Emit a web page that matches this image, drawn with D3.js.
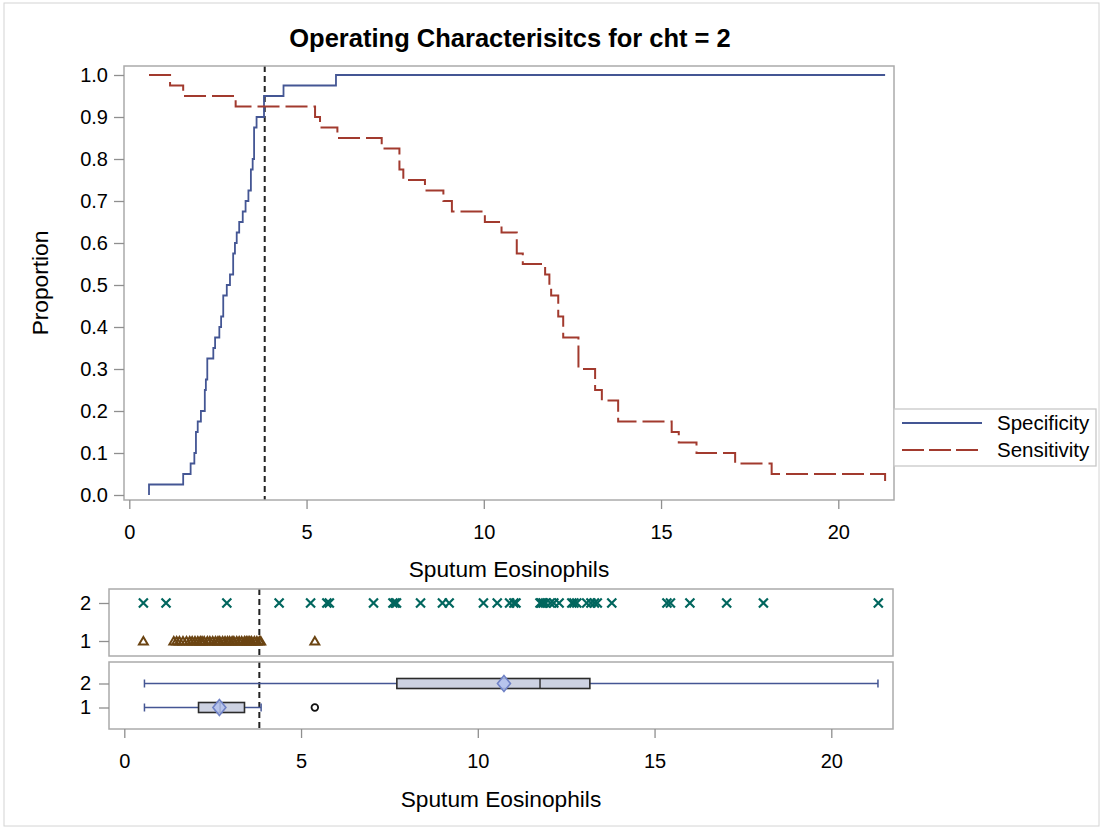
<!DOCTYPE html>
<html>
<head>
<meta charset="utf-8">
<script src="https://cdn.jsdelivr.net/npm/d3@7"></script>
<style>
  body { margin: 0; background: #fff; }
  text { font-family: "Liberation Sans", Arial, sans-serif; fill: #000; }
</style>
</head>
<body>
<div id="chart"></div>
<script>
// Specificity step curve (cutpoint, value)
const specCut = [0.556, 0.556, 1.52, 1.73, 1.835, 1.88, 1.93, 2.02, 2.13, 2.16, 2.2, 2.37, 2.42, 2.54, 2.59,
  2.65, 2.75, 2.84, 2.93, 2.98, 3.03, 3.1, 3.2, 3.28, 3.36, 3.43, 3.48, 3.52, 3.59, 3.8, 4.35, 5.83, 21.32];
const specVal = [0, 0.025, 0.05, 0.075, 0.1, 0.15, 0.175, 0.2, 0.25, 0.275, 0.325, 0.35, 0.375, 0.4, 0.425,
  0.475, 0.5, 0.525, 0.575, 0.6, 0.625, 0.65, 0.675, 0.7, 0.725, 0.775, 0.8, 0.875, 0.9, 0.95, 0.975, 1.0, 1.0];

// Sensitivity step curve
const sensCut = [0.556, 1.15, 1.52, 3.0, 5.24, 5.38, 5.87, 7.12, 7.62, 7.73, 8.34, 8.86, 9.1, 10.03, 10.5,
  10.93, 11.1, 11.73, 11.85, 11.9, 12.1, 12.24, 12.67, 13.14, 13.33, 13.79, 15.3, 15.5, 16.0, 17.09, 18.12, 21.32];
const sensVal = [1.0, 0.975, 0.95, 0.925, 0.9, 0.875, 0.85, 0.825, 0.775, 0.75, 0.725, 0.7, 0.675, 0.65, 0.625,
  0.575, 0.55, 0.525, 0.5, 0.475, 0.425, 0.375, 0.3, 0.25, 0.225, 0.175, 0.15, 0.125, 0.1, 0.075, 0.05, 0.025];

const cutoff = 3.82;
const seriesNames = ["Specificity", "Sensitivity"];
const groups = ["2", "1"];

// raw observations by group
const obsGroup2 = [0.54, 1.18, 2.9, 4.38, 5.27, 5.73, 5.8, 7.05, 7.6, 7.66, 7.7, 8.38, 9.0, 9.19, 10.16, 10.55,
  10.9, 11.02, 11.08, 11.76, 11.8, 11.85, 11.92, 12.05, 12.15, 12.3, 12.66, 12.72, 12.8, 13.08, 13.2, 13.3,
  13.38, 13.79, 15.35, 15.45, 16.0, 17.04, 18.08, 21.33];
const obsGroup1 = [0.54, 1.4, 1.48, 1.56, 1.66, 1.76, 1.85, 1.92, 2.0, 2.08, 2.15, 2.2, 2.26, 2.35, 2.42, 2.5,
  2.58, 2.65, 2.7, 2.78, 2.85, 2.92, 2.98, 3.05, 3.1, 3.18, 3.25, 3.32, 3.4, 3.45, 3.5, 3.55, 3.6, 3.68,
  3.75, 3.82, 3.86, 5.39];

// box plot summaries, order follows groups
const boxMin = [0.57, 0.57];
const boxQ1 = [7.71, 2.1];
const boxMedian = [11.76, 2.71];
const boxQ3 = [13.17, 3.4];
const boxMax = [21.32, 3.87];
const boxMean = [10.74, 2.69];
const boxOutliers = [[], [5.39]];

const xTicks = [0, 5, 10, 15, 20];
const yTicks = [0, 0.1, 0.2, 0.3, 0.4, 0.5, 0.6, 0.7, 0.8, 0.9, 1.0];

class OperatingChart {
  constructor(opts) {
    this.container = opts.container;
    this.width = 1103;
    this.height = 830;
    this.colors = { spec: "#445694", sens: "#A23A2E", grp2: "#01665E", grp1: "#6b4412", frame: "#ababab" };
    this.main = { left: 124, top: 66, right: 894, bottom: 500 };
    this.lower = { left: 109, right: 893, stripTop: 589, stripBottom: 656, boxTop: 662, boxBottom: 729 };
    this.svg = d3.select(this.container).append("svg")
      .attr("width", this.width).attr("height", this.height);
    this.svg.append("rect")
      .attr("x", 4).attr("y", 3).attr("width", this.width - 8).attr("height", this.height - 7)
      .attr("fill", "none").attr("stroke", "#d4d4d4");
    this.drawMain();
    this.addLegend();
    this.drawStrip();
    this.drawBox();
    this.addLowerAxis();
  }

  styleAxis(g) {
    g.select(".domain").remove();
    g.selectAll(".tick line").attr("stroke", "#8f8f8f").attr("stroke-width", 1.3);
    g.selectAll(".tick text").attr("font-size", 20).attr("fill", "#222");
  }

  frame(x0, y0, x1, y1) {
    this.svg.append("rect")
      .attr("x", x0).attr("y", y0).attr("width", x1 - x0).attr("height", y1 - y0)
      .attr("fill", "none").attr("stroke", this.colors.frame).attr("stroke-width", 1.5);
  }

  drawMain() {
    const m = this.main;
    this.x = d3.scaleLinear().domain([0, 20]).range([129.3, 838.3]);
    this.y = d3.scaleLinear().domain([0, 1]).range([495, 75]);

    this.svg.append("text")
      .attr("x", 510).attr("y", 47)
      .attr("text-anchor", "middle").attr("font-size", 25.5).attr("font-weight", "bold")
      .text("Operating Characterisitcs for cht = 2");

    const line = d3.line().curve(d3.curveStepAfter)
      .x((d) => this.x(d[0])).y((d) => this.y(d[1]));

    // reference line at the chosen cutoff
    this.svg.append("line")
      .attr("x1", this.x(cutoff)).attr("x2", this.x(cutoff))
      .attr("y1", m.top).attr("y2", m.bottom)
      .attr("stroke", "#222").attr("stroke-width", 2).attr("stroke-dasharray", "6,4");

    this.svg.append("path")
      .datum(specCut.map((c, i) => [c, specVal[i]]))
      .attr("d", line).attr("fill", "none")
      .attr("stroke", this.colors.spec).attr("stroke-width", 1.8);

    this.svg.append("path")
      .datum(sensCut.map((c, i) => [c, sensVal[i]]))
      .attr("d", line).attr("fill", "none")
      .attr("stroke", this.colors.sens).attr("stroke-width", 2).attr("stroke-dasharray", "22,6");

    this.frame(m.left, m.top, m.right, m.bottom);

    this.svg.append("g")
      .attr("transform", `translate(0,${m.bottom})`)
      .call(d3.axisBottom(this.x).tickValues(xTicks).tickSize(9).tickPadding(16).tickFormat(d3.format("d")))
      .call((g) => this.styleAxis(g));

    this.svg.append("g")
      .attr("transform", `translate(${m.left},0)`)
      .call(d3.axisLeft(this.y).tickValues(yTicks).tickSize(10).tickPadding(6).tickFormat(d3.format(".1f")))
      .call((g) => this.styleAxis(g));

    this.svg.append("text")
      .attr("x", (m.left + m.right) / 2).attr("y", 577)
      .attr("text-anchor", "middle").attr("font-size", 22.7)
      .text("Sputum Eosinophils");

    this.svg.append("text")
      .attr("transform", `translate(48,${(m.top + m.bottom) / 2}) rotate(-90)`)
      .attr("text-anchor", "middle").attr("font-size", 22.7)
      .text("Proportion");
  }

  addLegend() {
    const lg = this.svg.append("g").attr("class", "legend");
    lg.append("rect")
      .attr("x", 894).attr("y", 409).attr("width", 202).attr("height", 57)
      .attr("fill", "#fff").attr("stroke", "#c8c8c8").attr("stroke-width", 1.3);
    const items = lg.selectAll("g").data(seriesNames).enter().append("g")
      .attr("transform", (d, i) => `translate(0,${423 + i * 27})`);
    items.append("line")
      .attr("x1", 902).attr("x2", 982)
      .attr("stroke", (d, i) => (i === 0 ? this.colors.spec : this.colors.sens))
      .attr("stroke-width", (d, i) => (i === 0 ? 1.8 : 2))
      .attr("stroke-dasharray", (d, i) => (i === 0 ? null : "22,5"));
    items.append("text")
      .attr("x", 997).attr("y", 7.4)
      .attr("font-size", 20.5).attr("fill", "#222")
      .text((d) => d);
  }

  drawStrip() {
    const L = this.lower;
    this.xLow = d3.scaleLinear().domain([0, 20]).range([124.3, 831.3]);
    const yStrip = d3.scalePoint().domain(groups).range([603, 641]);

    this.svg.append("line")
      .attr("x1", this.xLow(cutoff)).attr("x2", this.xLow(cutoff))
      .attr("y1", L.stripTop).attr("y2", L.stripBottom)
      .attr("stroke", "#222").attr("stroke-width", 2).attr("stroke-dasharray", "6,4");

    // group 2 as crosses
    this.svg.append("g").selectAll("path").data(obsGroup2).enter().append("path")
      .attr("d", "M-4.5,-4.5L4.5,4.5M-4.5,4.5L4.5,-4.5")
      .attr("transform", (d) => `translate(${this.xLow(d)},${yStrip("2")})`)
      .attr("stroke", this.colors.grp2).attr("stroke-width", 2.2).attr("fill", "none");

    // group 1 as hollow triangles
    const tri = d3.symbol().type(d3.symbolTriangle).size(34);
    this.svg.append("g").selectAll("path").data(obsGroup1).enter().append("path")
      .attr("d", tri)
      .attr("transform", (d) => `translate(${this.xLow(d)},${yStrip("1") + 1})`)
      .attr("stroke", this.colors.grp1).attr("stroke-width", 2).attr("fill", "none");

    this.frame(L.left, L.stripTop, L.right, L.stripBottom);

    this.svg.append("g")
      .attr("transform", `translate(${L.left},0)`)
      .call(d3.axisLeft(yStrip).tickSize(10).tickPadding(8))
      .call((g) => this.styleAxis(g));
  }

  drawBox() {
    const L = this.lower;
    const x = this.xLow;
    const yBox = d3.scalePoint().domain(groups).range([683.5, 707.5]);
    const half = 5;

    this.svg.append("line")
      .attr("x1", x(cutoff)).attr("x2", x(cutoff))
      .attr("y1", L.boxTop).attr("y2", L.boxBottom)
      .attr("stroke", "#222").attr("stroke-width", 2).attr("stroke-dasharray", "6,4");

    const boxes = groups.map((g, i) => ({
      g, min: boxMin[i], q1: boxQ1[i], med: boxMedian[i], q3: boxQ3[i], max: boxMax[i], mean: boxMean[i], out: boxOutliers[i]
    }));

    const bg = this.svg.append("g").selectAll("g").data(boxes).enter().append("g")
      .attr("transform", (d) => `translate(0,${yBox(d.g)})`);

    // whiskers
    bg.append("line").attr("x1", (d) => x(d.min)).attr("x2", (d) => x(d.q1))
      .attr("stroke", this.colors.spec).attr("stroke-width", 1.5);
    bg.append("line").attr("x1", (d) => x(d.q3)).attr("x2", (d) => x(d.max))
      .attr("stroke", this.colors.spec).attr("stroke-width", 1.5);
    bg.append("line").attr("x1", (d) => x(d.min)).attr("x2", (d) => x(d.min))
      .attr("y1", -4).attr("y2", 4).attr("stroke", this.colors.spec).attr("stroke-width", 1.5);
    bg.append("line").attr("x1", (d) => x(d.max)).attr("x2", (d) => x(d.max))
      .attr("y1", -4).attr("y2", 4).attr("stroke", this.colors.spec).attr("stroke-width", 1.5);

    bg.append("rect")
      .attr("x", (d) => x(d.q1)).attr("y", -half)
      .attr("width", (d) => x(d.q3) - x(d.q1)).attr("height", half * 2)
      .attr("fill", "#cdd2e2").attr("stroke", "#2b2b2b").attr("stroke-width", 1.6);
    bg.append("line")
      .attr("x1", (d) => x(d.med)).attr("x2", (d) => x(d.med))
      .attr("y1", -half).attr("y2", half)
      .attr("stroke", "#2b2b2b").attr("stroke-width", 1.4);

    // mean diamond
    bg.append("path")
      .attr("d", "M0,-8L6.5,0L0,8L-6.5,0Z")
      .attr("transform", (d) => `translate(${x(d.mean)},0)`)
      .attr("fill", "#b3c2ee").attr("fill-opacity", 0.85)
      .attr("stroke", "#7082c6").attr("stroke-width", 1.6);

    bg.each(function (d) {
      d3.select(this).selectAll("circle").data(d.out).enter().append("circle")
        .attr("cx", (v) => x(v)).attr("r", 3.3)
        .attr("fill", "#fff").attr("stroke", "#111").attr("stroke-width", 1.8);
    });

    this.frame(L.left, L.boxTop, L.right, L.boxBottom);

    this.svg.append("g")
      .attr("transform", `translate(${L.left},0)`)
      .call(d3.axisLeft(yBox).tickSize(10).tickPadding(8))
      .call((g) => this.styleAxis(g));
  }

  addLowerAxis() {
    const L = this.lower;
    this.svg.append("g")
      .attr("transform", `translate(0,${L.boxBottom})`)
      .call(d3.axisBottom(this.xLow).tickValues(xTicks).tickSize(9).tickPadding(16).tickFormat(d3.format("d")))
      .call((g) => this.styleAxis(g));

    this.svg.append("text")
      .attr("x", (L.left + L.right) / 2).attr("y", 807)
      .attr("text-anchor", "middle").attr("font-size", 22.7)
      .text("Sputum Eosinophils");
  }
}

new OperatingChart({ container: "#chart" });
</script>
</body>
</html>
